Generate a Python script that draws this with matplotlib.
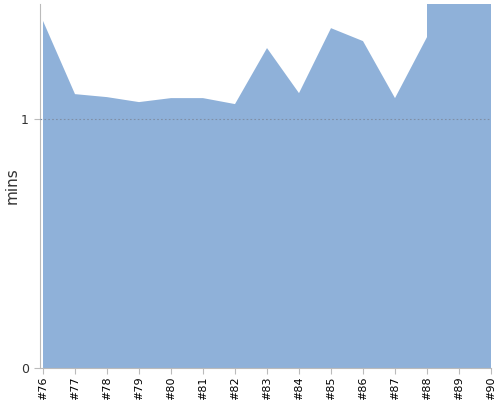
import matplotlib
matplotlib.use('Agg')
import matplotlib.pyplot as plt

# builds #76 .. #90, run time in minutes
labels = ['#76', '#77', '#78', '#79', '#80', '#81', '#82', '#83',
          '#84', '#85', '#86', '#87', '#88', '#89', '#90']
# #88 appears twice: the series jumps straight up off the chart there
x_pos = [0, 1, 2, 3, 4, 5, 6, 7, 8, 9, 10, 11, 12, 12, 13, 14]
mins = [1.394, 1.100, 1.088, 1.068, 1.084, 1.084, 1.060, 1.285,
        1.104, 1.365, 1.313, 1.084, 1.329, 3.0, 3.0, 3.0]

fig = plt.figure(figsize=(5, 4), dpi=100)
ax = fig.add_axes([0.08, 0.08, 0.902, 0.91])

ax.fill_between(x_pos, 0, mins, color='#8fb1d9', linewidth=0, zorder=2)
ax.axhline(1, color='#7f8fa6', linestyle=(0, (1.5, 2)), linewidth=0.8, zorder=3)

ax.set_xlim(-0.094, 14)
ax.set_ylim(0, 1.462)
ax.set_xticks(range(len(labels)))
ax.set_xticklabels(labels, rotation=90, fontsize=8)
ax.set_yticks([0, 1])
ax.set_yticklabels(['0', '1'], fontsize=9, color='#333333')
ax.set_ylabel('mins', fontsize=11, color='#333333', va='center')
ax.yaxis.set_label_coords(-0.062, 0.5)

for s in ['top', 'right']:
    ax.spines[s].set_visible(False)
for s in ['left', 'bottom']:
    ax.spines[s].set_color('#bbbbbb')
ax.tick_params(axis='x', length=4, color='#bbbbbb', pad=2)
ax.tick_params(axis='y', length=4, color='#bbbbbb', pad=4)

plt.savefig('out.png')
